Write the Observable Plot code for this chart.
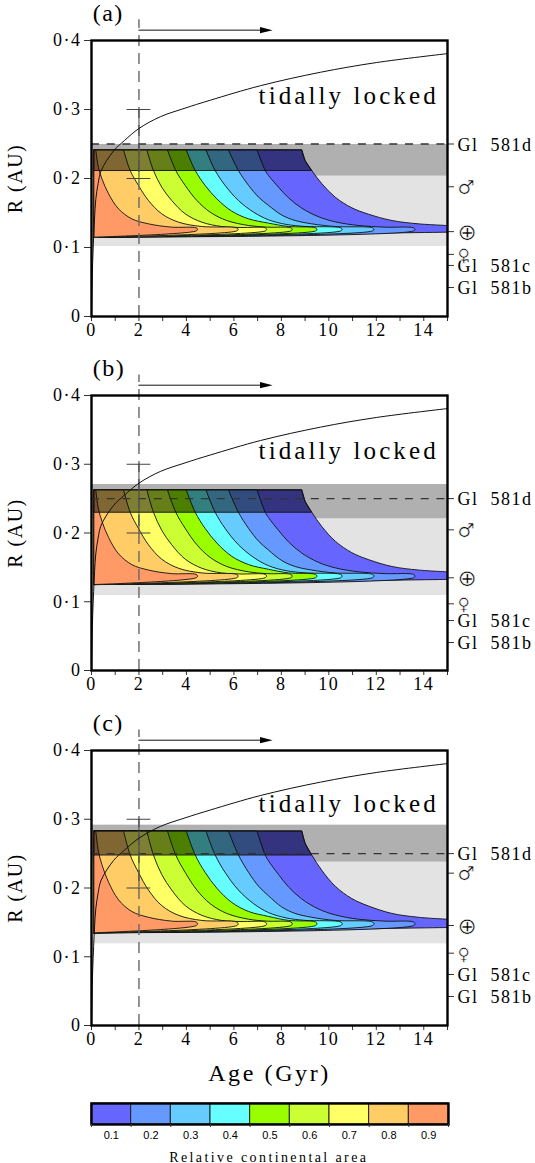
<!DOCTYPE html>
<html>
<head>
<meta charset="utf-8">
<script src="https://cdn.jsdelivr.net/npm/d3@7"></script>
<script src="https://cdn.jsdelivr.net/npm/@observablehq/plot@0.6"></script>
<style>
html,body{margin:0;padding:0;background:#fff;}
svg{display:block;}
</style>
</head>
<body>
<div id="chart"></div>
<script>
const levels = [0.1,0.2,0.3,0.4,0.5,0.6,0.7,0.8,0.9];
const edges = [0.05,0.15,0.25,0.35,0.45,0.55,0.65,0.75,0.85,0.95];
const colors = ["#6666ff","#6699ff","#66ccff","#66ffff","#99ff00","#ccff33","#ffff66","#ffcc66","#ff9966"];

// ages along each contour (same in all panels)
const age1 = [8.86,9.00,9.28,9.71,10.27,10.97,11.67,12.66,13.78,15];
const age2 = [6.97,7.32,7.46,7.88,8.30,8.86,9.57,10.27,11.25,12.37,13.57];
const age3 = [5.77,6.19,6.62,7.04,7.46,8.02,8.58,9.28,10.27,11.84];
const age4 = [4.82,5.21,5.63,6.19,6.83,7.46,8.2,9.0,10.5];
const age5 = [3.99,4.37,4.79,5.28,5.91,6.62,7.46,8.3,9.44];
const age6 = [3.20,3.55,3.95,4.44,5.00,5.70,6.62,7.4,8.4];
const age7 = [2.33,2.61,2.96,3.38,3.95,4.65,5.49,6.3,7.32];
const age8 = [1.35,1.63,1.98,2.40,2.96,3.67,4.65,6.12];
const age9 = [.18,.29,.44,.72,1.14,1.70,2.40,3.38,4.41];

// panel (a) radii
const a1 = [.2415,.2261,.2116,.1923,.1729,.1575,.1483,.1391,.1343,.1319];
const a2 = [.2415,.2116,.2043,.1874,.1720,.1570,.1445,.1372,.1319,.1295,.1285];
const a3 = [.2415,.2116,.1899,.1729,.1609,.1470,.1391,.1343,.1304,.1285];
const a4 = [.2415,.2116,.1899,.1681,.1512,.1401,.1335,.1305,.1285];
const a5 = [.2415,.2116,.1899,.1705,.1527,.1415,.1353,.1305,.1285];
const a6 = [.2415,.2116,.1899,.1681,.1512,.1391,.1319,.1295,.1285];
const a7 = [.2415,.2116,.1874,.1681,.1488,.1367,.1304,.1290,.1285];
const a8 = [.2415,.2116,.1899,.1681,.1488,.1367,.1304,.1285];
const a9 = [.2415,.2164,.1995,.1778,.1560,.1415,.1343,.1295,.1285];
// panel (b) radii
const b1 = [.2628,.2460,.2302,.2092,.1881,.1714,.1613,.1513,.1461,.1435];
const b2 = [.2628,.2302,.2223,.2039,.1871,.1708,.1572,.1493,.1435,.1409,.1398];
const b3 = [.2628,.2302,.2066,.1881,.1751,.1599,.1513,.1461,.1419,.1398];
const b4 = [.2628,.2302,.2066,.1829,.1645,.1524,.1452,.1420,.1398];
const b5 = [.2628,.2302,.2066,.1855,.1661,.1540,.1472,.1420,.1398];
const b6 = [.2628,.2302,.2066,.1829,.1645,.1513,.1435,.1409,.1398];
const b7 = [.2628,.2302,.2039,.1829,.1619,.1487,.1419,.1404,.1398];
const b8 = [.2628,.2302,.2066,.1829,.1619,.1487,.1419,.1398];
const b9 = [.2628,.2354,.2171,.1934,.1697,.1540,.1461,.1409,.1398];
// panel (c) radii
const c1 = [.2830,.2650,.2480,.2254,.2026,.1846,.1738,.1630,.1574,.1546];
const c2 = [.2830,.2480,.2394,.2196,.2016,.1840,.1694,.1608,.1546,.1518,.1506];
const c3 = [.2830,.2480,.2226,.2026,.1886,.1723,.1630,.1574,.1528,.1506];
const c4 = [.2830,.2480,.2226,.1970,.1772,.1642,.1565,.1529,.1506];
const c5 = [.2830,.2480,.2226,.1998,.1790,.1658,.1586,.1529,.1506];
const c6 = [.2830,.2480,.2226,.1970,.1772,.1630,.1546,.1518,.1506];
const c7 = [.2830,.2480,.2196,.1970,.1744,.1602,.1528,.1512,.1506];
const c8 = [.2830,.2480,.2226,.1970,.1744,.1602,.1528,.1506];
const c9 = [.2830,.2536,.2338,.2084,.1828,.1658,.1574,.1518,.1506];

const tidalAge = [0,.02,.05,.09,.13,.18,.28,.41,.93,1.39,2,2.9,3.9,5.01,7.12,9.65,12,15];
const tidalR = [0,.04,.08,.115,.144,.1695,.193,.2116,.24,.2551,.2725,.2895,.3015,.3135,.3345,.354,.368,.381];

const allAges = [age1,age2,age3,age4,age5,age6,age7,age8,age9];

const panels = [
  {tag:"(a)", r:[a1,a2,a3,a4,a5,a6,a7,a8,a9], bottom:.115, tipMid:.1262, tipLow:.124, endLow:.1222,
   darkLow:.2116, lightBand:[.1014,.2034], darkBand:[.2034,.2493],
   overlayAge:[8.86,9.00,9.28], overlayR:[.2415,.2261,.2116], textR:.319,
   planets:[.188,.123,.09], gl:[.25,.074,.042], h:355, mb:39},
  {tag:"(b)", r:[b1,b2,b3,b4,b5,b6,b7,b8,b9], bottom:.125, tipMid:.1373, tipLow:.1349, endLow:.1325,
   darkLow:.2302, lightBand:[.1091,.2206], darkBand:[.2206,.2705],
   overlayAge:[8.86,9.00,9.28], overlayR:[.2628,.2460,.2302], textR:.32,
   planets:[.2046,.1348,.097], gl:[.25,.0727,.0407], h:355, mb:40},
  {tag:"(c)", r:[c1,c2,c3,c4,c5,c6,c7,c8,c9], bottom:.1348, tipMid:.1479, tipLow:.1453, endLow:.1425,
   darkLow:.2480, lightBand:[.1188,.2376], darkBand:[.2376,.2914],
   overlayAge:[8.86,9.00,9.28], overlayR:[.2830,.2650,.2480], textR:.3215,
   planets:[.2216,.1455,.1052], gl:[.25,.0742,.0422], h:380, mb:65}
];

const planetNames = ["\u2642","\u2295","\u2640"];
const planetSizes = [19,23,17];
const glNames = ["Gl\u00a0\u00a0581d","Gl\u00a0\u00a0581c","Gl\u00a0\u00a0581b"];
const serif = "'Liberation Serif', serif";
const spaced = {"tidally locked":"3.1px", "Age (Gyr)":"2.6px", "Relative continental area":"2.4px"};

function applySpacing(svg) {
  d3.select(svg).selectAll("text").each(function () {
    const s = spaced[this.textContent];
    if (s) this.style.letterSpacing = s;
  });
  return svg;
}

function ringPoints(i, p) {
  const ages = allAges[i], rs = p.r[i], n = ages.length;
  const top = rs[0];
  const pts = [];
  const dup = (t, r) => { pts.push([t, r]); pts.push([t, r]); };
  dup(0.1, p.bottom); dup(0.1, top); dup(ages[0], top);
  for (let k = 1; k < n - 1; k++) pts.push([ages[k], rs[k]]);
  if (i === 0) {
    dup(15, rs[n - 1]); dup(15, p.endLow);
  } else {
    pts.push([ages[n - 1], rs[n - 1]]);
    pts.push([ages[n - 1] + 0.06, p.tipMid]);
    pts.push([ages[n - 1], p.tipLow]);
  }
  dup(0.1, p.bottom);
  return pts;
}

function panel(p, isLast) {
  const marks = [
    Plot.rect([p.lightBand], {x1: () => 0, x2: () => 15, y1: d => d[0], y2: d => d[1], fill: "#e3e3e3"}),
    Plot.rect([p.darkBand], {x1: () => 0, x2: () => 15, y1: d => d[0], y2: d => d[1], fill: "#b0b0b0"})
  ];
  levels.forEach((lv, i) => {
    marks.push(Plot.line(ringPoints(i, p), {
      x: d => d[0], y: d => d[1], fill: colors[i], stroke: "#111", strokeWidth: 0.9, curve: "catmull-rom"
    }));
  });
  const overlay = [[0.1, p.darkLow], [0.1, p.overlayR[0]]]
    .concat(p.overlayAge.map((t, k) => [t, p.overlayR[k]]));
  marks.push(Plot.line(overlay.concat([[0.1, p.darkLow]]), {
    x: d => d[0], y: d => d[1], fill: "#000", fillOpacity: 0.5, stroke: "#111", strokeWidth: 0.9
  }));
  marks.push(
    Plot.ruleY([0.25], {x1: 0, x2: 15, stroke: "#333", strokeWidth: 1.3, strokeDasharray: "8,7.7"}),
    Plot.ruleX([2], {y1: 0, y2: 0.43, stroke: "#666", strokeWidth: 1.4, strokeDasharray: "11,7"}),
    Plot.ruleX([2], {y1: 0.2, y2: 0.3, stroke: "#444", strokeWidth: 1}),
    Plot.ruleY([0.2, 0.3], {x1: 1.5, x2: 2.5, stroke: "#444", strokeWidth: 1}),
    Plot.line(tidalAge.map((t, k) => [t, tidalR[k]]), {x: d => d[0], y: d => d[1], stroke: "#111", strokeWidth: 1, curve: "catmull-rom"}),
    Plot.ruleY([0.415], {x1: 2, x2: 7.2, stroke: "#111", strokeWidth: 1}),
    Plot.line([[7.1, .4195], [7.63, .415], [7.1, .4105]], {x: d => d[0], y: d => d[1], fill: "#000", stroke: "none"}),
    Plot.axisY({anchor: "left", ticks: [0, .1, .2, .3, .4], tickSize: 7, tickPadding: 3, label: null, fontSize: 18,
      tickFormat: d => d === 0 ? "0" : "0\u00b7" + Math.round(d * 10), stroke: "#333"}),
    Plot.axisX({anchor: "bottom", ticks: d3.range(0, 16), tickSize: 5, tickPadding: 2, label: null, fontSize: 18,
      tickFormat: d => d % 2 ? "" : String(d), stroke: "#333"}),
    Plot.axisY({anchor: "right", ticks: p.gl.concat(p.planets), tickSize: 6, tickFormat: () => "", label: null, stroke: "#333"}),
    Plot.text(glNames, {x: () => 15, y: (d, k) => p.gl[k], text: d => d, dx: 10, dy: 1, textAnchor: "start", fontSize: 18}),
    Plot.text(planetNames, {x: () => 15, y: (d, k) => p.planets[k], text: d => d, dx: 10, dy: 1, textAnchor: "start",
      fontSize: (d, k) => planetSizes[k], fontFamily: "'DejaVu Sans'", fill: "#000", stroke: "#fff", strokeWidth: 0.5, paintOrder: "fill"}),
    Plot.text([p.tag], {x: () => 0.05, y: () => 0.439, text: d => d, textAnchor: "start", fontSize: 24}),
    Plot.text(["tidally locked"], {x: () => 7.04, y: () => p.textR, text: d => d, textAnchor: "start", fontSize: 25}),
    Plot.text(["R (AU)"], {x: () => -3.2, y: () => 0.2, text: d => d, rotate: -90, fontSize: 20}),
    Plot.frame({stroke: "#000", strokeWidth: 2.4})
  );
  if (isLast) {
    marks.push(Plot.text(["Age (Gyr)"], {x: () => 7.5, y: () => -0.07, text: d => d, fontSize: 24}));
  }
  return applySpacing(Plot.plot({
    width: 535, height: p.h,
    marginLeft: 91, marginRight: 88, marginTop: 40, marginBottom: p.mb,
    x: {domain: [0, 15]}, y: {domain: [0, 0.4]},
    style: {fontFamily: serif, background: "#fff", color: "#000", letterSpacing: "1.5px", overflow: "visible"},
    marks
  }));
}

const root = document.getElementById("chart");
panels.forEach((p, i) => root.appendChild(panel(p, i === panels.length - 1)));

const legend = Plot.plot({
  width: 535, height: 73,
  marginLeft: 91, marginRight: 87, marginTop: 13, marginBottom: 39,
  x: {domain: [0.05, 0.95], axis: null}, y: {domain: [0, 1], axis: null},
  style: {fontFamily: "'Liberation Sans', sans-serif", background: "#fff", color: "#000", overflow: "visible"},
  marks: [
    Plot.rect(levels, {x1: d => d - 0.05, x2: d => d + 0.05, y1: () => 0, y2: () => 1, fill: (d, i) => colors[i], stroke: "#222", strokeWidth: 1}),
    Plot.frame({stroke: "#000", strokeWidth: 2.4}),
    Plot.axisX({anchor: "bottom", ticks: edges, tickSize: 3, tickFormat: () => "", label: null, stroke: "#333"}),
    Plot.text(levels, {x: d => d, y: () => -0.52, text: d => d.toFixed(1), fontSize: 11}),
    Plot.text(["Relative continental area"], {x: () => 0.497, y: () => -1.57, text: d => d, fontSize: 14, fontFamily: serif})
  ]
});
root.appendChild(applySpacing(legend));
</script>
</body>
</html>
